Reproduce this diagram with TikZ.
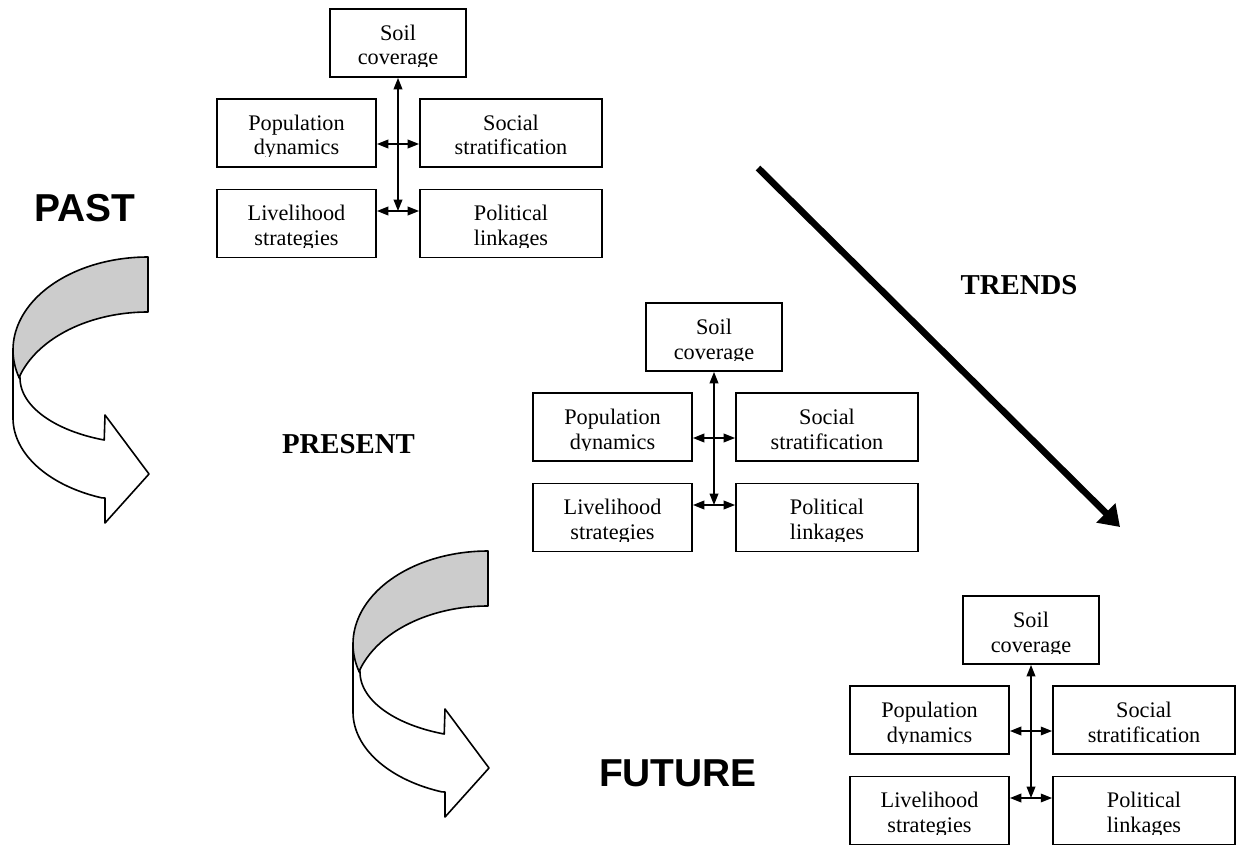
\documentclass[tikz,border=0pt]{standalone}
\usepackage{fontspec}
\setmainfont{Liberation Serif}
\newfontfamily\headsans{Liberation Sans}
\usetikzlibrary{arrows.meta}

% Box text: two lines, the lower one cut just under its baseline
\tikzset{
  boxfont/.style={font=\fontsize{16.7}{18}\selectfont, inner sep=0pt},
  factor/.style 2 args={draw, line width=1.4pt, inner sep=0pt, minimum height=51pt,
    path picture={
      \clip ([yshift=-43.2pt]path picture bounding box.north west)
            rectangle (path picture bounding box.north east);
      \node[boxfont, anchor=base] at ([yshift=-23.6pt]path picture bounding box.north) {#1};
      \node[boxfont, anchor=base] at ([yshift=-42pt]path picture bounding box.north) {#2};
    }},
  link/.style={line width=1.1pt, {Triangle[length=8.5pt,width=6.5pt]}-{Triangle[length=8.5pt,width=6.5pt]}},
  trend/.style={line width=5pt, -{Triangle[length=15pt,width=19.5pt]}},
  ribbonline/.style={line width=1.2pt, line join=round},
  bigsans/.style={font=\headsans\bfseries\fontsize{29.2}{34}\selectfont},
  bigserif/.style={font=\bfseries\fontsize{21.6}{26}\selectfont},
  % curved ribbon arrow: grey back band, white front band with head
  ribbon/.pic={
    \draw[ribbonline, fill=white] (13,350) -- (13,418)
      -- plot[domain=180:250, samples=40] ({148+135*cos(\x)},{418-85*sin(\x)})
      -- (105,498) -- (105,523) -- (149,474) -- (105,415)
      -- plot[domain=250:180, samples=40] ({148+128*cos(\x)},{378-66*sin(\x)})
      -- cycle;
    \draw[ribbonline, fill=gray!40]
      plot[domain=90:197, samples=50] ({148+135*cos(\x)},{350-93*sin(\x)})
      -- plot[domain=163:90, samples=50] ({148+135*cos(\x)},{405-93*sin(\x)})
      -- cycle;
  }
}

% One group of five linked factors; #1 = shift, #2 = name prefix
\newcommand\factorcluster[2]{%
  \begin{scope}[shift={#1}]
    \node[factor={Soil}{coverage}, minimum width=102pt] (#2soil) at (398,43) {};
    \node[factor={Population}{dynamics}, minimum width=119.25pt] (#2pop) at (296.5,133) {};
    \node[factor={Social}{stratification}, minimum width=136.5pt] (#2soc) at (511,133) {};
    \node[factor={Livelihood}{strategies}, minimum width=119.25pt] (#2liv) at (296.5,223.5) {};
    \node[factor={Political}{linkages}, minimum width=136.5pt] (#2pol) at (511,223.5) {};
    \coordinate (#2up) at (398,144);
    \coordinate (#2low) at (398,211);
    \draw[link] (#2soil.south) -- (#2low);
    \draw[link] (#2pop.east |- #2up) -- (#2soc.west |- #2up);
    \draw[link] (#2liv.east |- #2low) -- (#2pol.west |- #2low);
  \end{scope}}

\begin{document}
\begin{tikzpicture}[x=0.75pt, y=-0.75pt]
  \useasboundingbox (0,0) rectangle (1237,848);

  % the three time slices
  \factorcluster{(0,0)}{a}
  \factorcluster{(316,294)}{b}
  \factorcluster{(633,587)}{c}

  % curved arrows between slices
  \pic at (0,0) {ribbon};
  \pic at (340,294) {ribbon};

  % trend arrow
  \coordinate (tstart) at (758,168);
  \coordinate (tend) at (1120,527);
  \draw[trend] (tstart) -- (tend);

  % labels
  \node[bigsans, anchor=base] (past) at (85,222) {PAST};
  \node[bigserif, anchor=base] (present) at (348.5,453) {PRESENT};
  \node[bigsans, anchor=base] (future) at (678,786) {FUTURE};
  \node[bigserif, anchor=base] (trends) at (1019,295) {TRENDS};
\end{tikzpicture}
\end{document}
